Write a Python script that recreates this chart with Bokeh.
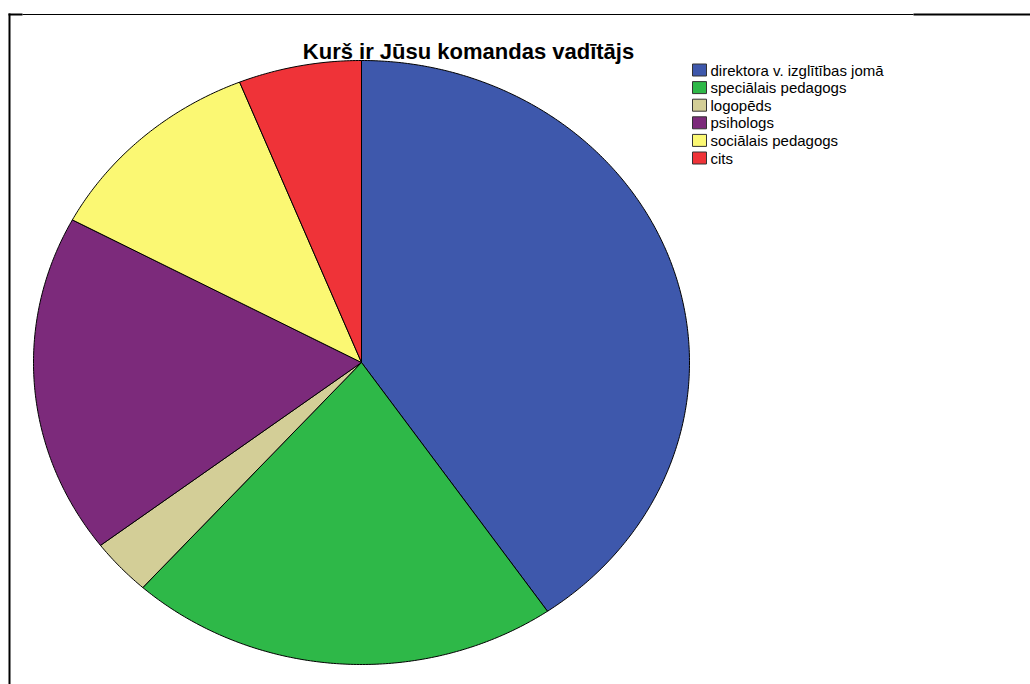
import numpy as np
from bokeh.plotting import figure
from bokeh.models import Range1d
from bokeh.core.properties import value
from bokeh.embed import file_html
from bokeh.resources import INLINE

title = "Kurš ir Jūsu komandas vadītājs"
categories = ["direktora v. izglītības jomā", "speciālais pedagogs", "logopēds",
              "psihologs", "sociālais pedagogs", "cits"]
counts = [40, 21, 3, 18, 11, 6]
colors = ["#3E58AC", "#2EB848", "#D3CE97", "#7C2A7B", "#FBF873", "#EF3338"]

W, H = 1030, 684
OFF = 0
p = figure(width=W, height=H, output_backend="svg", toolbar_location=None,
           x_range=Range1d(0, W), y_range=Range1d(0, H), min_border=0)
p.axis.visible = False
p.grid.visible = False
p.outline_line_color = None
p.background_fill_color = "white"

def px(x):
    return x - OFF
def py(y):
    return H - (y - OFF)

# frame lines
p.segment(x0=[px(8), px(22), px(913)], y0=[py(14)] * 3, x1=[px(22), px(913), W],
          y1=[py(14)] * 3, line_color="black", line_width=[2, 1, 2])
p.segment(x0=[px(9)], y0=[py(13)], x1=[px(9)], y1=[0], line_color="black", line_width=2)

# pie (elliptical), clockwise from 12 o'clock
cx, cy = px(361), py(362)
rx, ry = 328, 302
vals = np.array(counts, dtype=float)
frac = vals / vals.sum()
ends = np.cumsum(frac) * 2 * np.pi
starts = ends - frac * 2 * np.pi
xs, ys = [], []
for a0, a1 in zip(starts, ends):
    n = max(int(np.degrees(a1 - a0)), 2) * 2
    t = np.linspace(a0, a1, n)
    xs.append(np.concatenate([[cx], cx + rx * np.sin(t), [cx]]).tolist())
    ys.append(np.concatenate([[cy], cy + ry * np.cos(t), [cy]]).tolist())
p.patches(xs=xs, ys=ys, fill_color=colors, line_color="black", line_width=1)

# title
p.text(x=[px(468)], y=[py(51)], text=[title], text_font=value("Liberation Sans"),
       text_font_size="22px", text_font_style="bold", text_align="center",
       text_baseline="alphabetic", text_color="black")

# legend
row_y = [py(69.5 + i * 17.6) for i in range(len(categories))]
p.rect(x=[px(699)] * len(categories), y=row_y, width=14, height=12,
       width_units="screen", height_units="screen", fill_color=colors,
       line_color="#333333", line_width=1)
p.text(x=[px(710)] * len(categories), y=row_y, text=categories,
       text_font=value("Liberation Sans"), text_font_size="15px",
       text_baseline="middle", text_align="left", text_color="black")

open("out.html", "w").write(file_html(p, INLINE))
